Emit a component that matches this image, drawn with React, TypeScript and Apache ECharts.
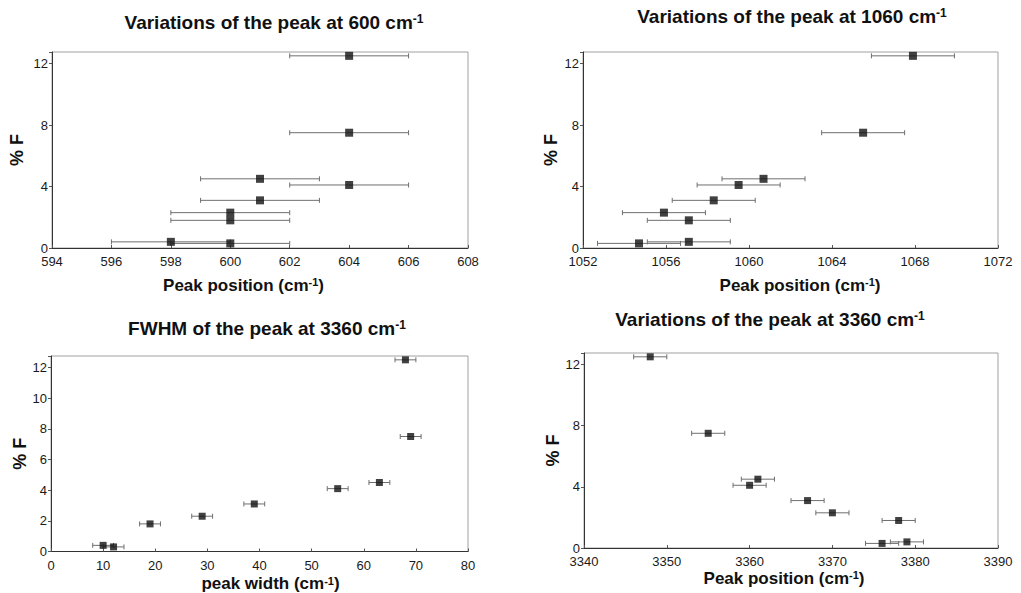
import React, { useEffect, useRef } from "react";
import * as echarts from "echarts";

// ---------- data ----------
// Panel 1: variations of the peak at 600 cm-1
const percentF600 = [12.5, 7.5, 4.5, 4.1, 3.1, 2.3, 1.8, 0.4, 0.3];
const position600 = [604, 604, 601, 604, 601, 600, 600, 598, 600];
const error600 = [2, 2, 2, 2, 2, 2, 2, 2, 2];
const xTicks600 = [594, 596, 598, 600, 602, 604, 606, 608];

// Panel 2: variations of the peak at 1060 cm-1
const percentF1060 = [12.5, 7.5, 4.5, 4.1, 3.1, 2.3, 1.8, 0.4, 0.3];
const position1060 = [1067.9, 1065.5, 1060.7, 1059.5, 1058.3, 1055.9, 1057.1, 1057.1, 1054.7];
const error1060 = [2, 2, 2, 2, 2, 2, 2, 2, 2];
const xTicks1060 = [1052, 1056, 1060, 1064, 1068, 1072];

// Panel 3: FWHM of the peak at 3360 cm-1
const percentFWidth = [12.5, 7.5, 4.5, 4.1, 3.1, 2.3, 1.8, 0.4, 0.3];
const width3360 = [68, 69, 63, 55, 39, 29, 19, 10, 12];
const errorWidth = [2, 2, 2, 2, 2, 2, 2, 2, 2];
const xTicksWidth = [0, 10, 20, 30, 40, 50, 60, 70, 80];

// Panel 4: variations of the peak at 3360 cm-1
const percentF3360 = [12.5, 7.5, 4.5, 4.1, 3.1, 2.3, 1.8, 0.3, 0.4];
const position3360 = [3348, 3355, 3361, 3360, 3367, 3370, 3378, 3376, 3379];
const error3360 = [2, 2, 2, 2, 2, 2, 2, 2, 2];
const xTicks3360 = [3340, 3350, 3360, 3370, 3380, 3390];

const yTicksCoarse = [0, 4, 8, 12];
const yTicksFine = [0, 2, 4, 6, 8, 10, 12];
const Y_MAX = 12.75;

const titles = [
  "Variations of the peak at 600 cm",
  "Variations of the peak at 1060 cm",
  "FWHM of the peak at 3360 cm",
  "Variations of the peak at 3360 cm",
];
const xNames = ["Peak position (cm", "Peak position (cm", "peak width (cm", "Peak position (cm"];
const yName = "% F";

// ---------- layout ----------
const FONT = '"Liberation Sans", Arial, Helvetica, sans-serif';
const grids = [
  { left: 52, top: 52, width: 416, height: 196 },
  { left: 583, top: 52, width: 415, height: 196 },
  { left: 51, top: 356, width: 417, height: 196 },
  { left: 584, top: 353, width: 414, height: 195 },
];
const titlePos = [
  [274, 22],
  [792, 16],
  [267, 328],
  [770, 319],
];
const xNameGap = [37, 37, 32, 30];
const xNamePad = [
  [0, 33, 0, 0],
  [0, 0, 0, 19],
  [0, 0, 0, 22],
  [0, 14, 0, 0],
];
const yNameGap = [35, 32, 31, 30];
const symbolSizes = [8, 8, 7, 7];

const panels = [
  { x: position600, y: percentF600, e: error600, xTicks: xTicks600, yTicks: yTicksCoarse },
  { x: position1060, y: percentF1060, e: error1060, xTicks: xTicks1060, yTicks: yTicksCoarse },
  { x: width3360, y: percentFWidth, e: errorWidth, xTicks: xTicksWidth, yTicks: yTicksFine },
  { x: position3360, y: percentF3360, e: error3360, xTicks: xTicks3360, yTicks: yTicksCoarse },
];

const supRich = (size: number, supSize: number) => ({
  n: { fontSize: size, fontWeight: "bold", fontFamily: FONT, color: "#111" },
  s: {
    fontSize: supSize,
    fontWeight: "bold",
    fontFamily: FONT,
    color: "#111",
    verticalAlign: "top",
    lineHeight: supSize,
  },
});

function buildOption() {
  const xAxis: any[] = [];
  const yAxis: any[] = [];
  const series: any[] = [];
  const graphic: any[] = [];

  panels.forEach((p, i) => {
    const xInterval = p.xTicks[1] - p.xTicks[0];
    const yInterval = p.yTicks[1] - p.yTicks[0];
    xAxis.push({
      type: "value",
      gridIndex: i,
      min: p.xTicks[0],
      max: p.xTicks[p.xTicks.length - 1],
      interval: xInterval,
      position: "bottom",
      name: `{n|${xNames[i]}}{s|-1}{n|)}`,
      nameLocation: "middle",
      nameGap: xNameGap[i],
      nameTextStyle: {
        fontSize: 17,
        fontWeight: "bold",
        fontFamily: FONT,
        color: "#111",
        verticalAlign: "middle",
        padding: xNamePad[i],
        rich: supRich(17, 11),
      },
      axisLine: { show: true, onZero: false, lineStyle: { color: "#333", width: 1 } },
      axisTick: { show: true, inside: true, length: 3, lineStyle: { color: "#555" } },
      axisLabel: {
        fontSize: 13,
        fontFamily: FONT,
        color: "#1a1a1a",
        margin: 7,
        formatter: (v: number) => String(v),
      },
      splitLine: { show: false },
    });
    yAxis.push({
      type: "value",
      gridIndex: i,
      min: 0,
      max: Y_MAX,
      interval: yInterval,
      position: "left",
      name: yName,
      nameLocation: "middle",
      nameGap: yNameGap[i],
      nameTextStyle: {
        fontSize: 18,
        fontWeight: "bold",
        fontFamily: FONT,
        color: "#111",
        verticalAlign: "middle",
      },
      axisLine: { show: true, onZero: false, lineStyle: { color: "#333", width: 1 } },
      axisTick: { show: true, inside: false, length: 3, lineStyle: { color: "#555" } },
      axisLabel: {
        fontSize: 13,
        fontFamily: FONT,
        color: "#1a1a1a",
        margin: 4,
        formatter: (v: number) => (Math.abs(v % yInterval) < 1e-9 ? String(v) : ""),
      },
      splitLine: { show: false },
    });

    const pts = p.x.map((xv, k) => [xv, p.y[k], p.e[k]]);
    series.push({
      type: "custom",
      xAxisIndex: i,
      yAxisIndex: i,
      encode: { x: 0, y: 1 },
      data: pts,
      z: 2,
      renderItem: (params: any, api: any) => {
        const xv = api.value(0);
        const yv = api.value(1);
        const ev = api.value(2);
        const lo = api.coord([xv - ev, yv]);
        const hi = api.coord([xv + ev, yv]);
        const style = { stroke: "#6f6f6f", lineWidth: 1, fill: null };
        const cap = 2.5;
        return {
          type: "group",
          children: [
            { type: "line", shape: { x1: lo[0], y1: lo[1], x2: hi[0], y2: hi[1] }, style },
            { type: "line", shape: { x1: lo[0], y1: lo[1] - cap, x2: lo[0], y2: lo[1] + cap }, style },
            { type: "line", shape: { x1: hi[0], y1: hi[1] - cap, x2: hi[0], y2: hi[1] + cap }, style },
          ],
        };
      },
    });
    series.push({
      type: "scatter",
      xAxisIndex: i,
      yAxisIndex: i,
      symbol: "rect",
      symbolSize: symbolSizes[i],
      itemStyle: { color: "#111" },
      z: 3,
      data: p.x.map((xv, k) => [xv, p.y[k]]),
    });

    graphic.push({
      type: "text",
      x: titlePos[i][0],
      y: titlePos[i][1],
      style: {
        text: `{n|${titles[i]}}{s|-1}`,
        rich: supRich(19, 12),
        align: "center",
        verticalAlign: "middle",
        fill: "#111",
      },
    });
  });

  return {
    animation: false,
    backgroundColor: "#ffffff",
    grid: grids.map((g) => ({
      ...g,
      containLabel: false,
      show: true,
      borderColor: "#a0a0a0",
      borderWidth: 1,
      backgroundColor: "transparent",
    })),
    xAxis,
    yAxis,
    series,
    graphic,
  };
}

export default function App() {
  const ref = useRef<HTMLDivElement>(null);
  useEffect(() => {
    if (!ref.current) return;
    const chart = echarts.init(ref.current, undefined, { renderer: "svg" });
    chart.setOption(buildOption() as any);
    return () => chart.dispose();
  }, []);
  return (
    <div
      ref={ref}
      style={{ position: "fixed", left: 0, top: 0, width: 1021, height: 593, background: "#fff" }}
    />
  );
}
